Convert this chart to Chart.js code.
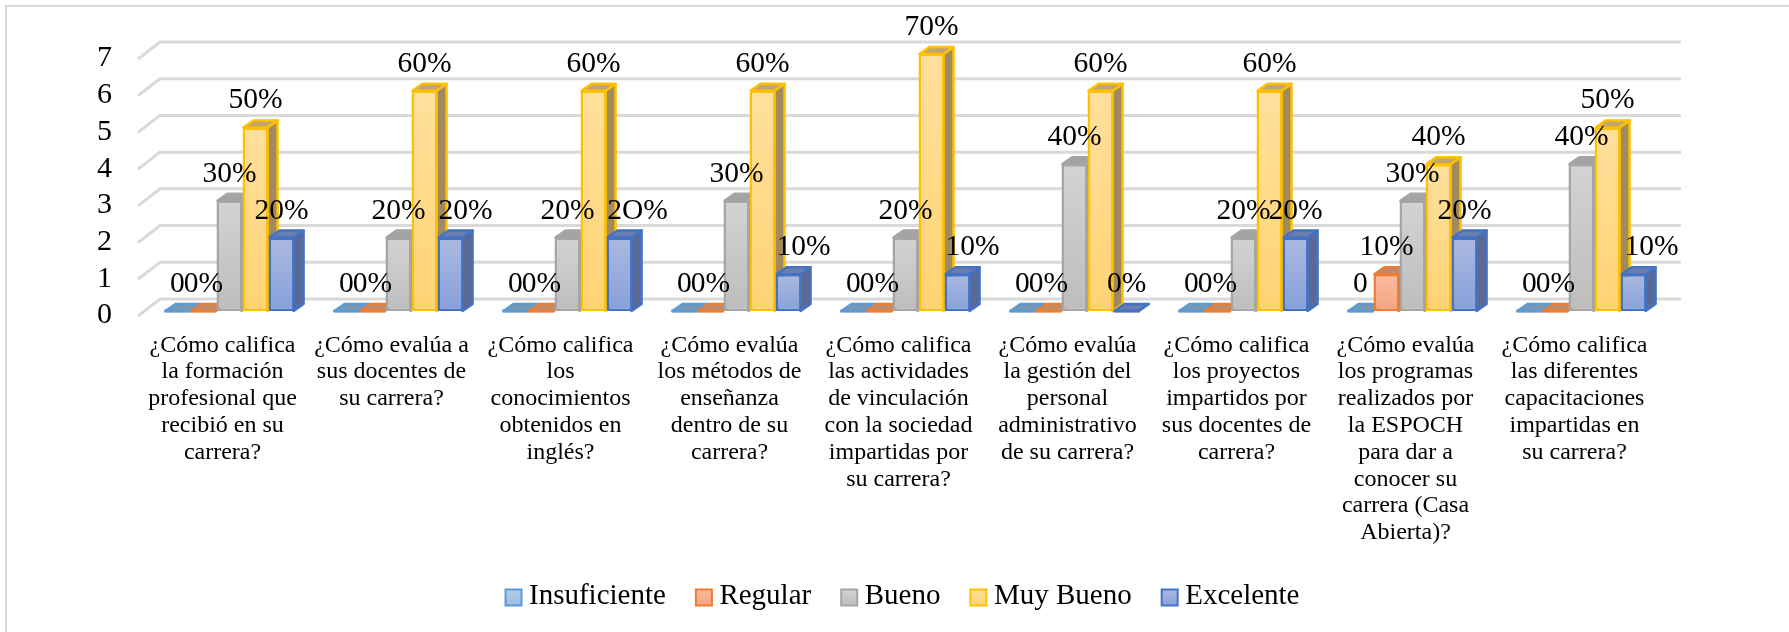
<!DOCTYPE html>
<html><head><meta charset="utf-8">
<style>
html,body{margin:0;padding:0;background:#fff;overflow:hidden}
#wrap{position:absolute;left:0;top:0;width:1789px;height:632px}
#frameT{position:absolute;left:5px;top:5px;right:0;height:2px;background:#d9d9d9}
#frameL{position:absolute;left:5px;top:5px;bottom:0;width:2px;background:#d9d9d9}
canvas{position:absolute;left:0;top:0}
</style>
<script src="https://cdn.jsdelivr.net/npm/chart.js@4/dist/chart.umd.min.js"></script>
</head><body>
<div id="wrap"><div id="frameT"></div><div id="frameL"></div><canvas id="c" width="1789" height="632"></canvas></div>
<script>
const categories = [
  ["¿Cómo califica","la formación","profesional que","recibió en su","carrera?"],
  ["¿Cómo evalúa a","sus docentes de","su carrera?"],
  ["¿Cómo califica","los","conocimientos","obtenidos en","inglés?"],
  ["¿Cómo evalúa","los métodos de","enseñanza","dentro de su","carrera?"],
  ["¿Cómo califica","las actividades","de vinculación","con la sociedad","impartidas por","su carrera?"],
  ["¿Cómo evalúa","la gestión del","personal","administrativo","de su carrera?"],
  ["¿Cómo califica","los proyectos","impartidos por","sus docentes de","carrera?"],
  ["¿Cómo evalúa","los programas","realizados por","la ESPOCH","para dar a","conocer su","carrera (Casa","Abierta)?"],
  ["¿Cómo califica","las diferentes","capacitaciones","impartidas en","su carrera?"]
];
const seriesNames = ["Insuficiente","Regular","Bueno","Muy Bueno","Excelente"];
const insuficiente = [0,0,0,0,0,0,0,0,0];
const regular      = [0,0,0,0,0,0,0,1,0];
const bueno        = [3,2,2,3,2,4,2,3,4];
const muyBueno     = [5,6,6,6,7,6,6,4,5];
const excelente    = [2,2,2,1,1,0,2,2,1];
const insuficienteLabels = ["0","0","0","0","0","0","0","0","0"];
const regularLabels      = ["0%","0%","0%","0%","0%","0%","0%","10%","0%"];
const buenoLabels        = ["30%","20%","20%","30%","20%","40%","20%","30%","40%"];
const muyBuenoLabels     = ["50%","60%","60%","60%","70%","60%","60%","40%","50%"];
const excelenteLabels    = ["20%","20%","2O%","10%","10%","0%","20%","20%","10%"];
const yTicks = [0,1,2,3,4,5,6,7];

const FONT = '"Liberation Serif"';
const excelenteLabelShift = [0,15,18,15,15,0,0,0,18];
const styles = [
  {border:'#5B9BD5',top:'#7f97ad',side:'#6d87a0',g0:'#B4CDE9',g1:'#9CBDE3'},
  {border:'#ED7D31',top:'#bd8c6e',side:'#a5785c',g0:'#F9BBA0',g1:'#F5A47F'},
  {border:'#A5A5A5',top:'#A3A3A3',side:'#8a8a8a',g0:'#D3D3D3',g1:'#BDBDBD'},
  {border:'#FFC000',top:'#C2A56C',side:'#A08A5E',g0:'#FFE09C',g1:'#FFD374'},
  {border:'#4472C4',top:'#6a7fae',side:'#5A6A95',g0:'#ABB9E0',g1:'#87A0DA'}
];
const seriesValues = [insuficiente,regular,bueno,muyBueno,excelente];
const seriesLabels = [insuficienteLabels,regularLabels,buenoLabels,muyBuenoLabels,excelenteLabels];

const BAR_DX = 10, BAR_DY = 7, WALL_DX = 22, WALL_DY = 17, WALL_RISE = 12, AREA_SHIFT = 7;

function poly(ctx, pts, fill, stroke, lw){
  ctx.beginPath();
  pts.forEach((p,i)=> i ? ctx.lineTo(p[0],p[1]) : ctx.moveTo(p[0],p[1]));
  ctx.closePath();
  ctx.fillStyle = fill; ctx.fill();
  if(stroke){ ctx.strokeStyle = stroke; ctx.lineWidth = lw; ctx.lineJoin='round'; ctx.stroke(); }
}

const threeD = {
  id:'threeD',
  beforeDatasetsDraw(chart){
    const {ctx, chartArea:a, scales:{y}} = chart;
    ctx.save();
    ctx.strokeStyle = '#D9D9D9'; ctx.lineWidth = 3;
    yTicks.forEach(v=>{
      const back = y.getPixelForValue(v) - WALL_RISE;
      ctx.beginPath();
      ctx.moveTo(a.left - AREA_SHIFT, back + WALL_DY);
      ctx.lineTo(a.left - AREA_SHIFT + WALL_DX, back);
      ctx.lineTo(a.right - AREA_SHIFT + WALL_DX, back);
      ctx.stroke();
    });
    const inset = 1;
    seriesValues.forEach((_,si)=>{
      const s = styles[si];
      chart.getDatasetMeta(si).data.forEach(bar=>{
        const l = bar.x - bar.width/2, r = bar.x + bar.width/2, t = bar.y, b = bar.base;
        poly(ctx, [[r-inset,t],[r-inset+BAR_DX,t-BAR_DY],[r-inset+BAR_DX,b-BAR_DY],[r-inset,b]], s.side, s.border, 2.5);
        poly(ctx, [[l+inset,t],[l+inset+BAR_DX,t-BAR_DY],[r-inset+BAR_DX,t-BAR_DY],[r-inset,t]], s.top, s.border, 2.5);
        if(b - t < 1){
          ctx.strokeStyle = s.border; ctx.lineWidth = 3;
          ctx.beginPath(); ctx.moveTo(l,b); ctx.lineTo(r,b); ctx.stroke();
        }
      });
    });
    ctx.restore();
  },
  afterDatasetsDraw(chart){
    const {ctx} = chart;
    ctx.save();
    ctx.fillStyle = '#000';
    ctx.font = '29.5px ' + FONT;
    ctx.textAlign = 'center';
    ctx.textBaseline = 'alphabetic';
    seriesLabels.forEach((labels,si)=>{
      chart.getDatasetMeta(si).data.forEach((bar,i)=>{
        const shift = si === 4 ? excelenteLabelShift[i] : 0;
        ctx.fillText(labels[i], bar.x + shift, bar.y - 19);
      });
    });
    ctx.restore();
  },
  afterDraw(chart){
    const {ctx} = chart;
    const hit = chart.legend.legendHitBoxes;
    ctx.save();
    hit.forEach((h,i)=>{
      const s = styles[i], size = 16, yy = h.top + h.height/2 - size/2 + 1;
      const g = ctx.createLinearGradient(0,yy,0,yy+size);
      g.addColorStop(0,s.g0); g.addColorStop(1,s.g1);
      ctx.fillStyle = g; ctx.fillRect(h.left,yy,size,size);
      ctx.strokeStyle = s.border; ctx.lineWidth = 2; ctx.strokeRect(h.left,yy,size,size);
    });
    ctx.restore();
  }
};

new Chart(document.getElementById('c'), {
  type:'bar',
  data:{
    labels: categories,
    datasets: seriesValues.map((vals,i)=>({
      label: seriesNames[i],
      data: vals,
      borderColor: styles[i].border,
      borderWidth: 2.5,
      borderSkipped: false,
      barPercentage: 1,
      categoryPercentage: 0.77,
      backgroundColor(ctx){
        const y = ctx.chart.scales.y;
        const v = ctx.raw || 0;
        if(!y || !v) return styles[i].g1;
        const g = ctx.chart.ctx.createLinearGradient(0,y.getPixelForValue(v),0,y.getPixelForValue(0));
        g.addColorStop(0,styles[i].g0); g.addColorStop(1,styles[i].g1);
        return g;
      }
    }))
  },
  plugins:[threeD],
  options:{
    responsive:false,
    animation:false,
    events:[],
    layout:{autoPadding:false,padding:{left:16,right:0,top:54,bottom:11}},
    plugins:{
      tooltip:{enabled:false},
      title:{display:false},
      legend:{
        display:true,position:'bottom',align:'center',
        labels:{
          boxWidth:9,boxHeight:16,padding:30,color:'#000',
          font:{family:FONT,size:29},
          generateLabels(chart){
            return seriesNames.map((n,i)=>({text:n,fillStyle:'rgba(0,0,0,0)',strokeStyle:'rgba(0,0,0,0)',lineWidth:0,datasetIndex:i,hidden:false,fontColor:'#000'}));
          }
        }
      }
    },
    scales:{
      x:{
        grid:{display:false,drawTicks:false},border:{display:false},
        afterFit(s){s.height = 241;},
        ticks:{autoSkip:false,maxRotation:0,minRotation:0,padding:21,labelOffset:-7,color:'#000',
          font:{family:FONT,size:24,lineHeight:1.116}}
      },
      y:{
        min:0,max:7,
        grid:{display:false,drawTicks:false},border:{display:false},
        afterFit(s){s.width = 129;},
        afterBuildTicks(s){s.ticks = yTicks.map(v=>({value:v}));},
        ticks:{autoSkip:false,padding:33,color:'#000',font:{family:FONT,size:30,lineHeight:'9px'},
          callback(v){return ['',String(v)];}}
      },
      rightGutter:{
        position:'right',axis:'y',min:0,max:7,
        grid:{display:false,drawTicks:false},border:{display:false},
        ticks:{display:false},
        afterFit(s){s.width = 123;}
      }
    }
  }
});
</script>
</body></html>
